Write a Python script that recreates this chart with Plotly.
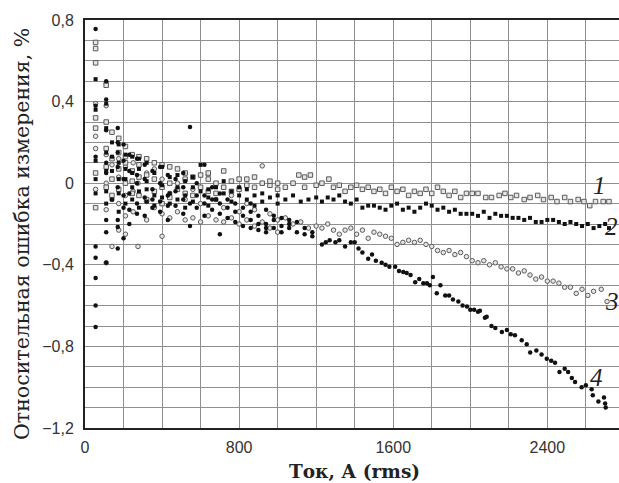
import plotly.graph_objects as go

# ---------------- data ----------------
# Low-current region: several repeated readings per current value
s1_low_current = [55, 110, 140, 175, 210, 245, 280, 320, 360, 400, 440, 480, 520, 560, 600, 640,
                  680, 720, 760, 800, 840, 880, 920, 960, 1000, 1040, 1080, 1110, 1140, 1170]
s1_low_error = [[0.69, 0.66, 0.59, 0.32, 0.27, 0.05, -0.12], [0.48, 0.30, 0.17, 0.08, -0.02],
                [0.25, 0.12, 0.02, -0.06], [0.22, 0.15, 0.07, -0.03], [0.18, 0.10, 0.0, 0.13],
                [0.14, 0.06, -0.05, 0.01], [0.13, 0.03, -0.06, 0.09], [0.12, 0.04, -0.08],
                [0.10, 0.02, -0.04], [0.09, -0.02, -0.10], [0.08, 0.0, -0.07], [0.07, -0.03],
                [0.05, -0.05, 0.02], [0.03, -0.06], [0.04, -0.02], [0.02, -0.04, 0.05],
                [0.0, -0.05], [0.06, -0.02], [0.01, -0.04], [0.02, -0.03], [-0.01, 0.02], [0.03, -0.02],
                [0.0], [-0.01, 0.01], [0.0, -0.03], [-0.02], [0.0], [0.04], [0.03, -0.02], [0.04]]
s1_current = [1200, 1230, 1266, 1290, 1320, 1350, 1380, 1410, 1440, 1470, 1500, 1530, 1560, 1590,
              1620, 1650, 1680, 1710, 1740, 1770, 1800, 1830, 1860, 1890, 1920, 1950, 1980, 2010,
              2040, 2080, 2110, 2150, 2180, 2210, 2240, 2280, 2310, 2350, 2380, 2420, 2450, 2490,
              2520, 2560, 2590, 2620, 2650, 2690, 2720]
s1_error = [-0.01, 0.0, 0.02, -0.02, -0.01, -0.04, -0.02, -0.01, -0.03, -0.02, -0.04, -0.03, -0.05,
            -0.02, -0.04, -0.03, -0.06, -0.04, -0.05, -0.03, -0.05, -0.02, -0.04, -0.06, -0.04, -0.07,
            -0.05, -0.05, -0.05, -0.07, -0.07, -0.06, -0.05, -0.07, -0.06, -0.08, -0.07, -0.06, -0.08,
            -0.07, -0.09, -0.07, -0.09, -0.08, -0.09, -0.11, -0.09, -0.09, -0.09]

s2_low_current = [55, 110, 140, 175, 210, 245, 280, 320, 360, 400, 440, 480, 520, 560, 600, 640,
                  680, 720, 760, 800, 840, 880, 920, 960, 1000, 1040, 1080, 1120, 1160]
s2_low_error = [[0.51, 0.36, 0.11, 0.02, -0.05], [0.39, 0.27, 0.15, -0.04, -0.10, 0.06],
                [0.20, 0.06, -0.08, 0.13], [0.19, 0.10, -0.05, -0.14, 0.02], [0.14, 0.02, -0.10, 0.07],
                [0.13, -0.02, -0.08, 0.05], [0.07, -0.04, -0.12, 0.12], [0.10, -0.03, -0.09, 0.01],
                [0.05, -0.06, -0.11], [0.08, -0.01, -0.07], [0.03, -0.05, -0.10], [0.04, -0.08, -0.02],
                [0.01, -0.06, -0.12], [-0.02, -0.09, 0.03], [0.09, -0.04], [-0.03, -0.07, -0.11],
                [-0.02, -0.08], [-0.05, 0.01], [-0.04, -0.09], [-0.06, -0.02], [-0.03, -0.08],
                [-0.06, -0.11], [-0.05, -0.09], [-0.07], [-0.06, -0.10], [-0.08], [-0.06],
                [-0.09], [-0.08]]
s2_current = [1200, 1230, 1260, 1290, 1320, 1350, 1380, 1410, 1440, 1470, 1500, 1530, 1560, 1590,
              1620, 1650, 1680, 1710, 1740, 1770, 1800, 1830, 1860, 1890, 1920, 1950, 1980, 2010,
              2040, 2070, 2100, 2130, 2160, 2190, 2220, 2250, 2280, 2310, 2340, 2370, 2400, 2430,
              2460, 2490, 2520, 2550, 2580, 2610, 2640, 2670, 2700, 2720]
s2_error = [-0.07, -0.09, -0.07, -0.08, -0.06, -0.09, -0.10, -0.08, -0.12, -0.11, -0.11, -0.12,
            -0.13, -0.11, -0.10, -0.13, -0.12, -0.14, -0.12, -0.10, -0.11, -0.13, -0.12, -0.14, -0.13,
            -0.15, -0.15, -0.15, -0.16, -0.14, -0.17, -0.15, -0.16, -0.16, -0.17, -0.17, -0.18, -0.17,
            -0.19, -0.19, -0.18, -0.18, -0.19, -0.20, -0.19, -0.20, -0.21, -0.20, -0.22, -0.21, -0.20,
            -0.22]

s3_low_current = [55, 110, 140, 175, 210, 250, 275, 320, 360, 400, 440, 480, 520, 560, 600, 640,
                  680, 720, 760, 800, 840, 880, 920, 960, 1000, 1040, 1080, 1120, 1160]
s3_low_error = [[0.39, 0.23, 0.17, -0.03], [0.49, 0.38, 0.14, 0.00, -0.13, -0.39], [0.09, -0.08, -0.31],
                [0.12, 0.03, -0.10, -0.23], [0.08, -0.06, -0.16, -0.25], [0.10, -0.04, -0.14],
                [-0.31, 0.0], [0.05, -0.09, -0.18], [0.07, -0.12], [0.02, -0.15, -0.26],
                [-0.05, -0.17], [0.00, -0.14], [-0.08, -0.18], [-0.03, -0.17], [-0.10, -0.19],
                [0.04, -0.16], [-0.08, -0.18], [-0.12, -0.19], [-0.06, -0.17], [-0.14, -0.20],
                [-0.10, -0.18], [-0.13, -0.21], [0.085, -0.19], [-0.15, -0.22], [-0.18, -0.24],
                [-0.17], [-0.20], [-0.19], [-0.22]]
s3_current = [1200, 1230, 1260, 1290, 1320, 1350, 1380, 1410, 1440, 1470, 1500, 1530, 1560, 1590,
              1620, 1650, 1680, 1710, 1740, 1770, 1800, 1830, 1860, 1890, 1920, 1950, 1980, 2010,
              2040, 2070, 2100, 2130, 2160, 2190, 2220, 2250, 2280, 2310, 2340, 2370, 2400, 2430,
              2460, 2490, 2520, 2550, 2580, 2610, 2640, 2680, 2710]
s3_error = [-0.21, -0.22, -0.20, -0.23, -0.25, -0.23, -0.22, -0.25, -0.23, -0.27, -0.24, -0.25,
            -0.26, -0.27, -0.30, -0.29, -0.28, -0.29, -0.28, -0.30, -0.31, -0.33, -0.34, -0.33, -0.35,
            -0.34, -0.36, -0.38, -0.39, -0.38, -0.40, -0.39, -0.41, -0.42, -0.42, -0.44, -0.43, -0.45,
            -0.47, -0.46, -0.48, -0.48, -0.49, -0.51, -0.51, -0.54, -0.52, -0.55, -0.53, -0.52, -0.58]

s4_low_current = [55, 110, 170, 200, 230, 270, 310, 350, 390, 430, 470, 510, 545, 580, 620, 660,
                  700, 740, 780, 820, 860, 900, 940, 980, 1020, 1060, 1100, 1140, 1180]
s4_low_error = [[0.756, 0.38, 0.13, -0.31, -0.365, -0.465, -0.60, -0.705],
                [0.50, 0.41, 0.26, 0.05, -0.18, -0.24, -0.39, 0.10],
                [0.27, 0.20, 0.08, -0.18, -0.215, -0.32, 0.15, -0.02],
                [0.19, 0.02, -0.12, -0.27, 0.11, -0.06], [0.14, -0.05, -0.20, 0.06, -0.13],
                [0.12, 0.0, -0.10, 0.04, -0.15], [0.09, -0.07, -0.16, 0.02], [0.06, -0.03, -0.12, -0.08],
                [0.08, -0.09, -0.14, 0.0], [0.04, -0.06, -0.18, -0.11], [0.02, -0.11, -0.04],
                [0.05, -0.08, -0.15, -0.02], [0.275, -0.21, -0.10], [0.00, -0.12, -0.06],
                [0.09, -0.06, -0.16, -0.10], [-0.02, -0.13, -0.08], [-0.05, -0.15, -0.25, -0.10],
                [-0.08, -0.17, -0.12], [-0.10, -0.19, -0.14], [-0.12, -0.21, -0.16],
                [-0.14, -0.22, -0.10, -0.18], [-0.16, -0.23, -0.20], [-0.13, -0.20, -0.24, -0.22],
                [-0.18, -0.22, -0.16], [-0.17, -0.24, -0.21], [-0.20, -0.22, -0.18], [-0.19, -0.24],
                [-0.22, -0.25], [-0.24, -0.26]]
s4_current = [1230, 1250, 1270, 1300, 1320, 1350, 1380, 1400, 1420, 1440, 1470, 1490, 1510, 1540,
              1560, 1580, 1610, 1630, 1652, 1670, 1690, 1714, 1735, 1756, 1775, 1790, 1806, 1826,
              1845, 1870, 1890, 1910, 1938, 1960, 1983, 2000, 2020, 2040, 2050, 2076, 2085, 2110,
              2130, 2164, 2190, 2210, 2232, 2267, 2293, 2311, 2343, 2370, 2397, 2420, 2440, 2463,
              2490, 2508, 2527, 2544, 2578, 2600, 2630, 2636, 2665, 2694, 2700, 2703]
s4_error = [-0.30, -0.29, -0.28, -0.29, -0.28, -0.31, -0.29, -0.29, -0.32, -0.34, -0.37, -0.35,
            -0.38, -0.39, -0.40, -0.41, -0.41, -0.43, -0.435, -0.44, -0.45, -0.485, -0.47, -0.49,
            -0.49, -0.50, -0.46, -0.54, -0.50, -0.55, -0.55, -0.57, -0.58, -0.60, -0.605, -0.62,
            -0.62, -0.63, -0.625, -0.66, -0.655, -0.70, -0.71, -0.73, -0.72, -0.74, -0.745, -0.77,
            -0.79, -0.83, -0.82, -0.84, -0.86, -0.87, -0.88, -0.925, -0.91, -0.925, -0.955, -0.975,
            -1.0, -0.99, -1.01, -1.04, -1.07, -1.05, -1.08, -1.10]

series_labels = ["1", "2", "3", "4"]

x_tick_values = [0, 200, 400, 600, 800, 1000, 1200, 1400, 1600, 1800, 2000, 2200, 2400, 2600]
x_tick_text = ["0", "", "", "", "800", "", "", "", "1600", "", "", "", "2400", ""]
y_tick_values = [-1.2, -1.1, -1.0, -0.9, -0.8, -0.7, -0.6, -0.5, -0.4, -0.3, -0.2, -0.1, 0.0,
                 0.1, 0.2, 0.3, 0.4, 0.5, 0.6, 0.7, 0.8]
y_tick_text = ["−1,2", "", "", "", "−0,8", "", "", "", "−0,4", "", "", "", "0",
               "", "", "", "0,4", "", "", "", "0,8"]


def flatten(low_x, low_y, hi_x, hi_y):
    xs, ys = [], []
    for cx, vals in zip(low_x, low_y):
        for v in vals:
            xs.append(cx)
            ys.append(v)
    return xs + list(hi_x), ys + list(hi_y)


s1_x, s1_y = flatten(s1_low_current, s1_low_error, s1_current, s1_error)
s2_x, s2_y = flatten(s2_low_current, s2_low_error, s2_current, s2_error)
s3_x, s3_y = flatten(s3_low_current, s3_low_error, s3_current, s3_error)
s4_x, s4_y = flatten(s4_low_current, s4_low_error, s4_current, s4_error)

fig = go.Figure()
open_style = dict(color="#e6e6e6", line=dict(color="#5a5a5a", width=1))
fig.add_trace(go.Scatter(x=s3_x, y=s3_y, mode="markers", name="3",
                         marker=dict(symbol="circle", size=4.5, **open_style)))
fig.add_trace(go.Scatter(x=s1_x, y=s1_y, mode="markers", name="1",
                         marker=dict(symbol="square", size=4.5, **open_style)))
fig.add_trace(go.Scatter(x=s2_x, y=s2_y, mode="markers", name="2",
                         marker=dict(symbol="square", size=4, color="#111111")))
fig.add_trace(go.Scatter(x=s4_x, y=s4_y, mode="markers", name="4",
                         marker=dict(symbol="circle", size=4.5, color="#111111")))

label_pos = [(2672, -0.01), (2732, -0.21), (2737, -0.58), (2657, -0.95)]
for txt, (lx, ly) in zip(series_labels, label_pos):
    fig.add_annotation(x=lx, y=ly, xref="x", yref="y", text="<i>" + txt + "</i>", showarrow=False,
                       font=dict(family="Liberation Serif", size=25, color="#222"),
                       xanchor="center", yanchor="middle")

fig.add_annotation(xref="paper", yref="paper", x=(354 - 85) / 534, y=-(471 - 428) / 408,
                   text="<b>Ток, А (rms)</b>", showarrow=False, xanchor="center", yanchor="middle",
                   font=dict(family="DejaVu Serif", size=18.5, color="#222"))
fig.add_annotation(xref="paper", yref="paper", x=-(85 - 22) / 534, y=(428 - 234) / 408,
                   text="Относительная ошибка измерения, %", showarrow=False, textangle=-90,
                   xanchor="center", yanchor="middle",
                   font=dict(family="DejaVu Serif", size=20.5, color="#222"))

fig.update_layout(
    width=619, height=483,
    margin=dict(l=85, r=0, t=20, b=55),
    paper_bgcolor="white", plot_bgcolor="white",
    showlegend=False,
    xaxis=dict(range=[0, 2772], tickmode="array", tickvals=x_tick_values, ticktext=x_tick_text,
               showgrid=True, gridcolor="#8f8f8f", gridwidth=1.3, zeroline=False,
               showline=True, linecolor="#222", linewidth=2, mirror=True, ticks="",
               ticklabelstandoff=4,
               tickfont=dict(family="Liberation Sans", size=16, color="#333")),
    yaxis=dict(range=[-1.2, 0.8], tickmode="array", tickvals=y_tick_values, ticktext=y_tick_text,
               showgrid=True, gridcolor="#8f8f8f", gridwidth=1.3, zeroline=False,
               showline=True, linecolor="#222", linewidth=2, ticks="",
               ticklabelstandoff=6,
               tickfont=dict(family="Liberation Sans", size=16, color="#333")),
)

fig.write_html("out.html", config={"displayModeBar": False},
               post_script="document.body.style.margin='0';")
